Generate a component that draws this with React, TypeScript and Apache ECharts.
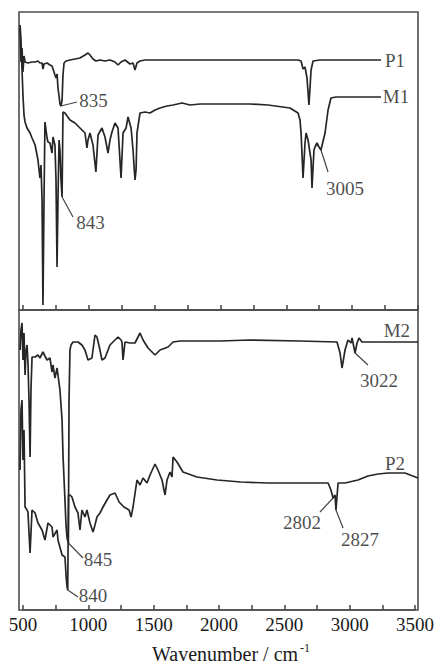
import React, { useEffect, useRef } from "react";
import * as echarts from "echarts";

// Wavenumber range shared by both panels (cm^-1)
const WN_MIN = 470;
const WN_MAX = 3500;
const TICK_START = 500;
const TICK_STEP = 250;
const LABEL_STEP = 500;

// Upper panel spectra: [wavenumber, transmittance (a.u.)]
const P1: [number, number][] = [
  [478, 282], [485, 248], [493, 262], [500, 238], [508, 254], [516, 248], [538, 247], [569, 248],
  [592, 248], [614, 249], [629, 247], [645, 247], [652, 241], [660, 246], [683, 247], [705, 245],
  [721, 244], [736, 238], [743, 235], [751, 232], [759, 236], [766, 222], [774, 214], [781, 206],
  [789, 204], [797, 210], [804, 235], [812, 247], [827, 249], [857, 250], [895, 251], [933, 252],
  [971, 255], [994, 257], [1009, 255], [1032, 251], [1054, 249], [1085, 250], [1123, 249],
  [1161, 250], [1199, 248], [1222, 245], [1245, 248], [1275, 250], [1313, 246], [1336, 247],
  [1351, 240], [1366, 247], [1389, 249], [1427, 250], [1465, 250], [1845, 250], [2224, 250],
  [2589, 250], [2612, 249], [2627, 241], [2642, 243], [2657, 232], [2672, 205], [2688, 240],
  [2703, 249], [2756, 250], [2984, 250], [3219, 250],
];

const M1: [number, number][] = [
  [478, 285], [485, 270], [493, 240], [500, 215], [508, 195], [516, 188], [531, 182], [554, 177],
  [569, 172], [576, 170], [592, 165], [607, 155], [614, 150], [629, 132], [637, 145], [645, 110],
  [652, 5], [660, 110], [667, 188], [683, 172], [690, 168], [705, 167], [721, 157], [728, 173],
  [743, 165], [751, 130], [759, 43], [766, 110], [774, 170], [781, 160], [789, 130], [797, 113],
  [804, 198], [819, 197], [835, 194], [857, 190], [895, 187], [933, 182], [971, 177], [986, 162],
  [994, 170], [1009, 177], [1032, 165], [1054, 138], [1070, 175], [1100, 182], [1123, 173],
  [1146, 157], [1161, 170], [1176, 178], [1199, 187], [1222, 182], [1245, 132], [1260, 177],
  [1283, 182], [1298, 193], [1321, 182], [1336, 160], [1344, 143], [1351, 130], [1359, 140],
  [1366, 177], [1389, 197], [1427, 198], [1465, 197], [1503, 200], [1541, 202], [1594, 204],
  [1640, 205], [1708, 207], [1769, 205], [1845, 206], [2224, 206], [2361, 205], [2528, 202],
  [2589, 197], [2604, 190], [2612, 177], [2627, 132], [2642, 167], [2650, 177], [2665, 170],
  [2688, 150], [2695, 122], [2710, 160], [2718, 163], [2733, 167], [2748, 163], [2763, 160],
  [2794, 177], [2817, 200], [2839, 212], [2877, 213], [2946, 213], [3219, 213],
];

// Lower panel spectra
const M2: [number, number][] = [
  [478, 260], [485, 280], [493, 287], [500, 250], [508, 277], [516, 235], [523, 258], [531, 265],
  [538, 248], [546, 210], [554, 153], [561, 220], [569, 253], [592, 253], [614, 255], [629, 252],
  [652, 258], [667, 254], [683, 250], [705, 252], [721, 238], [728, 245], [743, 232], [759, 242],
  [766, 235], [781, 220], [797, 190], [804, 155], [819, 110], [827, 85], [835, 72], [845, 67],
  [850, 210], [857, 260], [865, 265], [880, 268], [918, 268], [948, 265], [971, 260], [994, 250],
  [1024, 252], [1047, 275], [1062, 273], [1085, 260], [1100, 250], [1123, 252], [1161, 265],
  [1199, 270], [1222, 273], [1245, 270], [1252, 268], [1260, 250], [1275, 268], [1313, 267],
  [1351, 267], [1389, 277], [1412, 270], [1450, 262], [1503, 255], [1541, 260], [1602, 263],
  [1640, 268], [1693, 269], [1791, 269], [1996, 269], [2224, 270], [2604, 269], [2885, 268],
  [2908, 257], [2923, 242], [2946, 260], [2968, 270], [2991, 267], [2999, 272], [3022, 257],
  [3037, 267], [3052, 272], [3074, 268], [3500, 268],
];

const P2: [number, number][] = [
  [478, 140], [485, 200], [493, 210], [500, 150], [508, 180], [516, 103], [531, 100], [538, 98],
  [554, 57], [569, 100], [592, 97], [614, 87], [645, 80], [667, 70], [690, 87], [721, 83],
  [728, 73], [759, 80], [766, 70], [797, 55], [819, 53], [828, 33], [835, 23], [840, 20],
  [846, 115], [857, 115], [872, 113], [895, 103], [918, 97], [933, 80], [948, 100], [971, 93],
  [986, 100], [1009, 87], [1032, 78], [1047, 85], [1062, 93], [1085, 97], [1108, 103],
  [1138, 110], [1161, 115], [1199, 117], [1230, 108], [1267, 103], [1306, 100], [1321, 93],
  [1336, 103], [1366, 130], [1389, 125], [1412, 132], [1442, 127], [1465, 135], [1503, 146],
  [1525, 140], [1556, 130], [1579, 115], [1594, 130], [1617, 138], [1632, 133], [1640, 153],
  [1670, 148], [1715, 138], [1821, 133], [1974, 130], [2154, 128], [2361, 127], [2817, 127],
  [2839, 120], [2855, 112], [2870, 115], [2877, 100], [2893, 127], [2946, 127], [3044, 130],
  [3120, 134], [3196, 136], [3272, 137], [3401, 137], [3500, 132],
];

// Peak call-outs: text, point on the curve, and where the text sits (data units)
const TOP_PEAKS = [
  { text: "835", at: [789, 204], to: [910, 208], label: [1035, 210] },
  { text: "843", at: [797, 113], to: [880, 93], label: [1013, 88] },
  { text: "3005", at: [2763, 160], to: [2817, 138], label: [2946, 122] },
];
const BOTTOM_PEAKS = [
  { text: "845", at: [845, 67], to: [956, 52], label: [1070, 51] },
  { text: "840", at: [840, 20], to: [918, 13], label: [1032, 15] },
  { text: "3022", at: [3022, 257], to: [3120, 245], label: [3204, 230] },
  { text: "2802", at: [2855, 112], to: [2756, 98], label: [2619, 88] },
  { text: "2827", at: [2877, 100], to: [2931, 82], label: [3059, 71] },
];

// Sample names written next to their traces
const TOP_NAMES = [
  { text: "P1", label: [3325, 250] },
  { text: "M1", label: [3333, 214] },
];
const BOTTOM_NAMES = [
  { text: "M2", label: [3340, 280] },
  { text: "P2", label: [3325, 147] },
];

const FONT = '"Liberation Serif", "Times New Roman", serif';
const INK = "#262626";
const FRAME = "#4d4d4d";

// Plot frame geometry (px)
const LEFT = 19;
const RIGHT = 19;
const PLOT_W = 437 - LEFT - RIGHT;
// Left offset of the tick scale, which starts at TICK_START rather than WN_MIN
const TICK_LEFT = LEFT + ((TICK_START - WN_MIN) / (WN_MAX - WN_MIN)) * PLOT_W;

const PANELS = [
  { top: 12, height: 298, yMax: 298 },
  { top: 310, height: 300, yMax: 300 },
];

function curve(name: string, data: [number, number][], idx: number) {
  return {
    name,
    type: "line",
    xAxisIndex: idx,
    yAxisIndex: idx,
    data,
    showSymbol: false,
    symbol: "none",
    lineStyle: { color: INK, width: 1.7 },
    z: 3,
  };
}

function leaders(peaks: { at: number[]; to: number[] }[], idx: number) {
  return peaks.map((p) => ({
    type: "line",
    xAxisIndex: idx,
    yAxisIndex: idx,
    data: [p.at, p.to],
    showSymbol: false,
    symbol: "none",
    lineStyle: { color: "#444", width: 1.2 },
    z: 2,
  }));
}

function texts(items: { text: string; label: number[] }[], idx: number) {
  return {
    type: "scatter",
    xAxisIndex: idx,
    yAxisIndex: idx,
    symbolSize: 0,
    data: items.map((it) => ({ value: it.label, name: it.text })),
    label: {
      show: true,
      position: "inside",
      formatter: (p: any) => p.name,
      fontFamily: FONT,
      fontSize: 19,
      color: "#1a1a1a",
    },
    z: 4,
  };
}

// Data axes: carry the spectra, no decoration
function dataXAxis(idx: number) {
  return {
    type: "value",
    gridIndex: idx,
    min: WN_MIN,
    max: WN_MAX,
    show: false,
  };
}

// Scale axes: ticks every 250 cm^-1 starting at 500, labels every 500
function scaleXAxis(gridIdx: number, withLabels: boolean) {
  return {
    type: "value",
    gridIndex: gridIdx,
    position: "bottom",
    min: TICK_START,
    max: WN_MAX,
    interval: TICK_STEP,
    z: 5,
    axisLine: { show: true, onZero: false, lineStyle: { color: FRAME, width: 1.6 } },
    splitLine: { show: false },
    axisTick: {
      show: true,
      inside: true,
      length: 5,
      lineStyle: { color: FRAME, width: 1.6 },
    },
    axisLabel: {
      show: withLabels,
      formatter: (v: number) => (v % LABEL_STEP === 0 ? String(v) : ""),
      fontFamily: FONT,
      fontSize: 19,
      color: "#1a1a1a",
      margin: 5,
      showMinLabel: true,
      showMaxLabel: true,
    },
  };
}

export default function App() {
  const ref = useRef<HTMLDivElement>(null);

  useEffect(() => {
    if (!ref.current) return;
    const chart = echarts.init(ref.current, undefined, { renderer: "svg" });
    chart.setOption({
      animation: false,
      backgroundColor: "#ffffff",
      grid: [
        ...PANELS.map((p) => ({
          left: LEFT, right: RIGHT, top: p.top, height: p.height,
          show: true, borderColor: FRAME, borderWidth: 1.6,
        })),
        ...PANELS.map((p) => ({
          left: TICK_LEFT, right: RIGHT, top: p.top, height: p.height, show: false,
        })),
      ],
      xAxis: [dataXAxis(0), dataXAxis(1), scaleXAxis(2, false), scaleXAxis(3, true)],
      yAxis: [
        { type: "value", gridIndex: 0, min: 0, max: PANELS[0].yMax, show: false },
        { type: "value", gridIndex: 1, min: 0, max: PANELS[1].yMax, show: false },
        { type: "value", gridIndex: 2, min: 0, max: 1, show: false },
        { type: "value", gridIndex: 3, min: 0, max: 1, show: false },
      ],
      graphic: [
        {
          type: "text",
          left: 152,
          top: 644,
          style: { text: "Wavenumber / cm", font: `20px ${FONT}`, fill: "#1a1a1a" },
        },
        {
          type: "text",
          left: 300,
          top: 642,
          style: { text: "-1", font: `12px ${FONT}`, fill: "#1a1a1a" },
        },
      ],
      series: [
        curve("P1", P1, 0),
        curve("M1", M1, 0),
        curve("M2", M2, 1),
        curve("P2", P2, 1),
        ...leaders(TOP_PEAKS, 0),
        ...leaders(BOTTOM_PEAKS, 1),
        texts([...TOP_PEAKS, ...TOP_NAMES], 0),
        texts([...BOTTOM_PEAKS, ...BOTTOM_NAMES], 1),
      ],
    });
    return () => chart.dispose();
  }, []);

  return (
    <div
      ref={ref}
      style={{ position: "fixed", left: 0, top: 0, width: 437, height: 666 }}
    />
  );
}
